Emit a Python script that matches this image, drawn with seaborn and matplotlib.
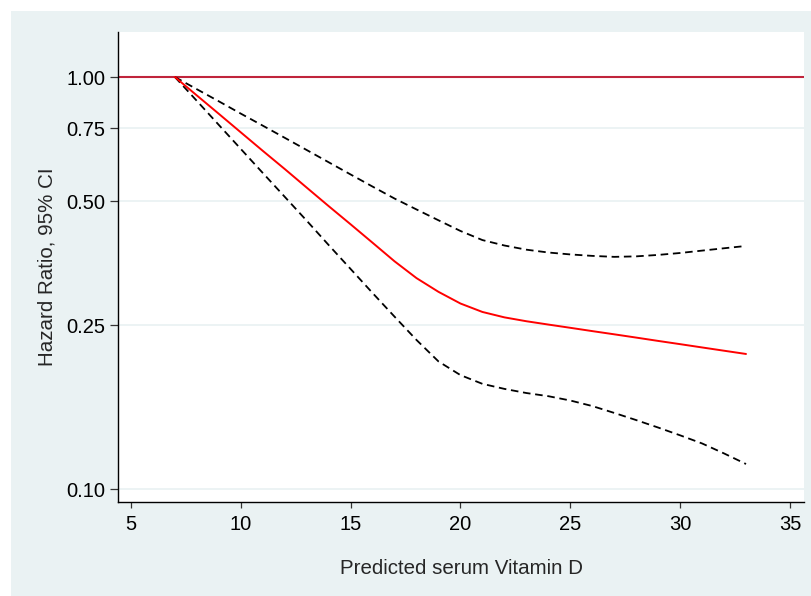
import numpy as np
import pandas as pd
import matplotlib
matplotlib.use("Agg")
import matplotlib.pyplot as plt
import seaborn as sns
from matplotlib.patches import Rectangle
from matplotlib.ticker import FixedLocator, FixedFormatter, NullLocator

# ---- data ----
vitamin_d = [7, 8, 9, 10, 11, 12, 13, 14, 15, 16, 17, 18, 19, 20,
             21, 22, 23, 24, 25, 26, 27, 28, 29, 30, 31, 32, 33]
hr = [1.000, 0.902, 0.814, 0.734, 0.662, 0.598, 0.539, 0.486, 0.439, 0.396,
      0.357, 0.325, 0.301, 0.282, 0.269, 0.261, 0.2554, 0.2507, 0.2462, 0.2417,
      0.2374, 0.2331, 0.2288, 0.2247, 0.2206, 0.2166, 0.2127]
ci_upper = [1.000, 0.934, 0.873, 0.815, 0.762, 0.712, 0.665, 0.621, 0.580, 0.542,
            0.507, 0.477, 0.449, 0.423, 0.402, 0.390, 0.381, 0.375, 0.371, 0.368,
            0.366, 0.367, 0.370, 0.374, 0.379, 0.384, 0.389]
ci_lower = [1.000, 0.875, 0.765, 0.669, 0.585, 0.512, 0.448, 0.391, 0.342, 0.299,
            0.262, 0.230, 0.204, 0.189, 0.180, 0.175, 0.171, 0.168, 0.164, 0.159,
            0.153, 0.147, 0.141, 0.135, 0.129, 0.122, 0.115]
y_ticks = [0.10, 0.25, 0.50, 0.75, 1.00]
y_tick_labels = ["0.10", "0.25", "0.50", "0.75", "1.00"]
x_ticks = [5, 10, 15, 20, 25, 30, 35]
reference_hr = 1.0

sns.set_style("ticks")
plt.rcParams['font.family'] = ['Liberation Sans', 'DejaVu Sans']

W, H = 811, 596
fig = plt.figure(figsize=(W / 100, H / 100), dpi=100)
fig.patch.set_facecolor("white")
bg = "#eaf2f3"
fig.patches.append(Rectangle((11 / W, 0), 1 - 11 / W, 1 - 11 / H,
                             transform=fig.transFigure, facecolor=bg,
                             edgecolor="none", zorder=-10))

ax = fig.add_axes([118 / W, (H - 502) / H, (804 - 118) / W, (502 - 32) / H])
ax.set_zorder(1)
ax.set_facecolor("white")

df = pd.DataFrame({"vitd": vitamin_d, "hr": hr, "lo": ci_lower, "hi": ci_upper})

# grid lines
for t in y_ticks[:-1]:
    ax.axhline(t, color=bg, lw=1.3, zorder=0.5)
ax.axhline(reference_hr, color="#c0243c", lw=1.5, zorder=1)

dash = (0, (4.2, 2.6))
sns.lineplot(data=df, x="vitd", y="hi", ax=ax, color="black", lw=1.3,
             linestyle=dash, zorder=2)
sns.lineplot(data=df, x="vitd", y="lo", ax=ax, color="black", lw=1.3,
             linestyle=dash, zorder=2)
sns.lineplot(data=df, x="vitd", y="hr", ax=ax, color="#ff0000", lw=1.4, zorder=3)

ax.set_yscale("log")
ax.set_ylim(0.0930, 1.286)
ax.set_xlim(4.41, 35.64)
ax.yaxis.set_major_locator(FixedLocator(y_ticks))
ax.yaxis.set_major_formatter(FixedFormatter(y_tick_labels))
ax.yaxis.set_minor_locator(NullLocator())
ax.set_xticks(x_ticks)
ax.set_xticklabels([str(v) for v in x_ticks])

for s in ["top", "right"]:
    ax.spines[s].set_visible(False)
for s in ["left", "bottom"]:
    ax.spines[s].set_color("black")
    ax.spines[s].set_linewidth(1.0)

ax.tick_params(axis="y", length=6, width=0.9, color="#333333", pad=3,
               labelsize=14.5, labelcolor="black")
ax.tick_params(axis="x", length=4.5, width=0.9, color="#333333", pad=5,
               labelsize=14.5, labelcolor="black")

ax.set_xlabel("Predicted serum Vitamin D", fontsize=14.8, labelpad=18)
ax.set_ylabel("Hazard Ratio, 95% CI", fontsize=14.8, labelpad=7)

fig.savefig("out.png", dpi=100, facecolor=fig.get_facecolor())
